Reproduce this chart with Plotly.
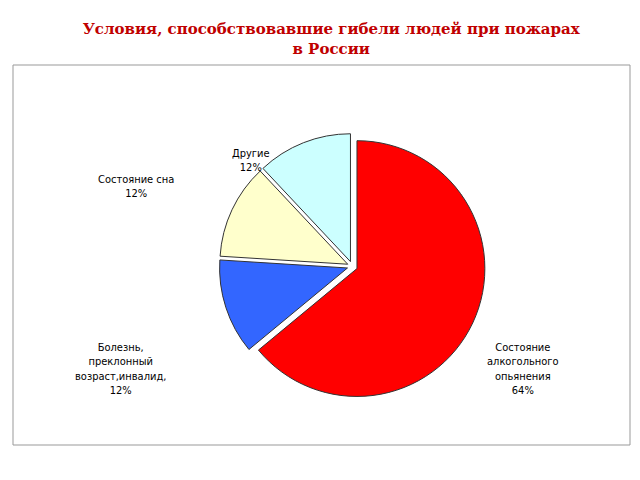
import plotly.graph_objects as go

labels = ["Состояние<br>алкогольного<br>опьянения", "Болезнь,<br>преклонный<br>возраст,инвалид", "Состояние сна", "Другие"]
values = [64, 12, 12, 12]
colors = ["#FF0000", "#3366FF", "#FFFFCC", "#CCFFFF"]

fig = go.Figure(go.Pie(
    labels=labels, values=values, sort=False, direction="clockwise", rotation=0,
    marker=dict(colors=colors, line=dict(color="#333333", width=1)),
    pull=[0.04, 0.04, 0.04, 0.04], textinfo="none", hoverinfo="label+percent",
    domain=dict(x=[0.2, 0.9], y=[0.12, 0.82]), showlegend=False))

ann = [
    (0.888, 0.12, "Состояние<br>алкогольного<br>опьянения<br>64%"),
    (0.097, 0.12, "Болезнь,<br>преклонный<br>возраст,инвалид,<br>12%"),
    (0.135, 0.72, "Состояние сна<br>12%"),
    (0.386, 0.79, "Другие<br>12%"),
]
for x, y, t in ann:
    fig.add_annotation(x=x, y=y, xref="paper", yref="paper", text=t, showarrow=False,
                       font=dict(family="DejaVu Sans Condensed, DejaVu Sans", size=11, color="black"),
                       align="center")

fig.update_layout(
    width=640, height=480, paper_bgcolor="white", plot_bgcolor="white",
    margin=dict(l=5, r=18, t=57, b=43, autoexpand=False),
    title=dict(text="<b>Условия, способствовавшие гибели людей при пожарах<br>в России</b>",
               x=0.505, xanchor="center", y=0.945, yanchor="top",
               font=dict(family="DejaVu Serif", size=15, color="#C00000")),
    shapes=[dict(type="rect", xref="paper", yref="paper", x0=0, x1=1, y0=0, y1=1,
                 line=dict(color="#999999", width=1))],
)
fig.write_html("out.html")
